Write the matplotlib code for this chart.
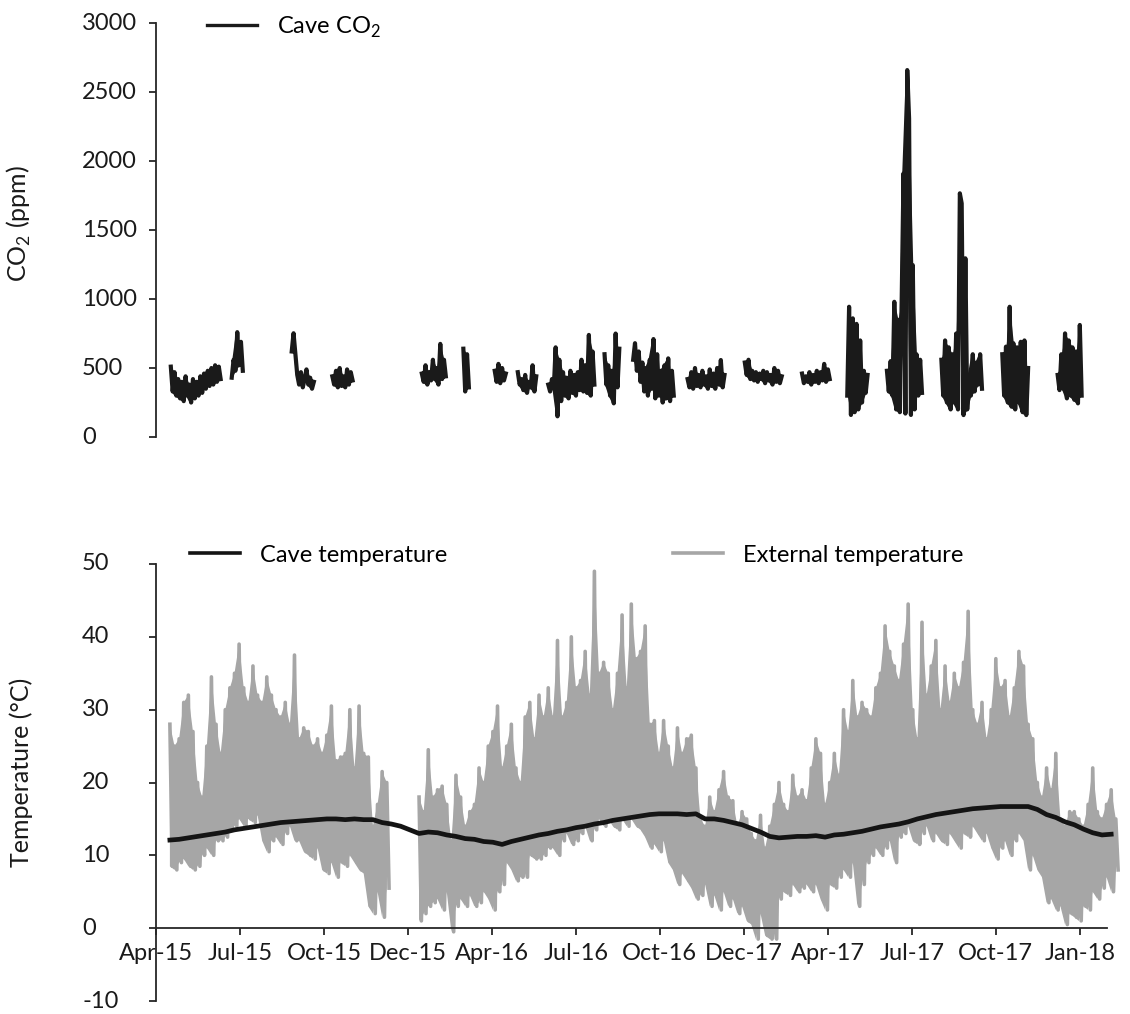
import numpy as np
from matplotlib import pyplot as plt

plt.rcParams["font.family"] = ["Lato", "DejaVu Sans"]
plt.rcParams["mathtext.fontset"] = "custom"
plt.rcParams["mathtext.rm"] = "Lato"
plt.rcParams["font.size"] = 17

# x axis: days since the first tick, one tick per quarter
tick_labels = ["Apr-15", "Jul-15", "Oct-15", "Dec-15", "Apr-16", "Jul-16",
               "Oct-16", "Dec-17", "Apr-17", "Jul-17", "Oct-17", "Jan-18"]
tick_days = [91 * i for i in range(len(tick_labels))]
axis_end = 1031

# external temperature, high / low every 5 days from day 15 (nan = logger gap)
ext_start = 15
ext_high = [
    28, 25, 26, 31, 32, 27, 20, 18, 25, 34.5,
    28, 24, 30, 33, 35, 39, 33, 31, 36, 32,
    31, 34.5, 32, 30, 29, 31, 28, 37.5, 26, 27.5,
    27, 25, 26, 24, 26.5, 30.5, 23, 23.5, 24, 30,
    22, 30.5, 24, 23.5, 14, 17, 21.5, 20,
    np.nan, np.nan, np.nan, np.nan, np.nan, np.nan,
    18, 16, 24.5, 18, 19, 19.5, 17, 12, 21, 18,
    14, 16, 17, 22, 20, 25, 27, 30.5, 22, 25,
    28, 22, 20, 29, 31, 26, 32, 29, 33, 29,
    39.5, 29, 31, 40, 33, 34, 38, 32, 49, 35,
    36.5, 35, 30, 35, 43, 33, 44.5, 37, 38, 41.5,
    28, 28.5, 24,
    28.5, 25, 22, 27.5, 24, 26, 26.5, 22, 15, 14,
    18, 16, 19, 21.5, 18, 17.5, 14, 16, 15, 13,
    12, 15.5, 11, 14, 17, 20, 17, 16, 21, 18,
    19, 17.5, 22, 26, 24, 17, 20, 24, 21, 30,
    27, 34, 29, 31, 30, 29, 33, 35, 41.5, 38,
    36, 34, 39, 44.5,
    30, 26, 42, 32, 36, 39.5, 30, 36, 31, 35,
    33, 36.5, 43.5, 30, 28, 31, 26, 30, 37, 33,
    34, 29, 33, 38, 36, 28, 26, 20, 18, 22,
    19, 24, 15, 14, 16, 16, 15, 14, 17, 22,
    16, 15, 17, 19, 15,
]
ext_low = [
    8.5, 8, 9, 9.5, 8.5, 8, 8.5, 10, 11, 10,
    12, 12, 12.5, 13.5, 14, 15, 14, 15, 14.5, 15.5,
    12, 10.5, 12, 12.5, 11.5, 13, 14, 12, 12, 10.5,
    10, 9.5, 11, 8, 7.5, 9, 7, 9, 8.5, 10,
    9, 8, 7.5, 3, 2, 5, 1.5, 5.5,
    np.nan, np.nan, np.nan, np.nan, np.nan, np.nan,
    1, 2, 3, 3.5, 4, 2.5, 5, -0.5, 3, 4,
    3, 4.5, 3, 3.5, 5, 4, 2.5, 5, 6, 9,
    8, 6.5, 7, 7, 10, 9.5, 9.5, 10, 11, 11,
    10, 12, 13, 11.5, 12, 13, 14, 12, 13.5, 15,
    14, 15, 14, 13.5, 15, 14, 15, 14, 13.5, 12.5,
    11, 11.5, 10.5,
    12, 9, 8, 6, 7.5, 6.5, 5.5, 4, 4.5, 6,
    3, 4.5, 2.5, 5, 3, 4, 2, 3, 1, 0.5,
    -1.5, 2, -1, -1.5, -1.5, 4, 5, 4.5, 6, 5,
    5.5, 6, 5, 6, 4, 2.5, 6, 5.5, 7, 8,
    7, 9, 3, 6, 9, 10, 11, 10, 11, 12,
    9, 12.5, 13, 14,
    12, 11.5, 13, 14, 12, 13, 12, 11.5, 13, 12,
    11, 13, 12.5, 14, 13, 12, 13, 11, 9.5, 11,
    12, 10, 12, 13, 12, 8, 10, 8, 7, 3.5,
    4, 2.5, 3, 0.5, 2, 1.5, 1, 3, 2.5, 5,
    4, 5.5, 7, 5, 8,
]

# cave temperature every 10 days from day 15
cave_start = 15
cave_temp = [
    12.1, 12.2, 12.4, 12.6, 12.8, 13.0, 13.2, 13.5, 13.7, 13.9,
    14.1, 14.3, 14.5, 14.6, 14.7, 14.8, 14.9, 15.0, 15.0, 14.9,
    15.0, 14.9, 14.9, 14.5, 14.3, 14.0, 13.5, 13.0, 13.2, 13.1,
    12.8, 12.6, 12.3, 12.2, 11.9, 11.8, 11.5, 11.9, 12.2, 12.5,
    12.8, 13.0, 13.3, 13.5, 13.8, 14.0, 14.3, 14.5, 14.8, 15.0,
    15.2, 15.4, 15.6, 15.7, 15.7, 15.7, 15.6, 15.7, 15.0, 15.0,
    14.8, 14.5, 14.2, 13.7, 13.2, 12.6, 12.4, 12.5, 12.6, 12.6,
    12.7, 12.5, 12.8, 12.9, 13.1, 13.3, 13.6, 13.9, 14.1, 14.3,
    14.6, 15.0, 15.3, 15.6, 15.8, 16.0, 16.2, 16.4, 16.5, 16.6,
    16.7, 16.7, 16.7, 16.7, 16.3, 15.6, 15.2, 14.6, 14.2, 13.6,
    13.1, 12.8, 12.9,
]

# cave CO2, one reading every 2 days inside each logging run
co2_step = 2
co2_starts = [16, 82, 147, 191, 288, 333, 367, 392, 425, 486,
              517, 576, 638, 700, 749, 792, 851, 917, 977]
co2_runs = [
    [510, 330, 470, 300, 420, 280, 400, 260, 440, 300, 380, 250, 420, 280,
     400, 300, 440, 320, 460, 350, 480, 370, 500, 380, 520, 400, 510, 420],
    [430, 560, 480, 760, 520, 690, 480],
    [620, 752, 600, 450, 380, 470, 360, 420, 490, 380, 430, 350, 400],
    [440, 380, 480, 360, 500, 370, 440, 360, 490, 380, 470, 410],
    [460, 400, 520, 380, 470, 410, 560, 420, 500, 380, 675, 420, 560, 440],
    [640, 330, 600, 360],
    [480, 400, 530, 390, 500, 410, 460],
    [470, 380, 420, 340, 450, 320, 400, 360, 520, 330, 440],
    [380, 330, 420, 350, 650, 150, 560, 260, 470, 300, 430, 280, 480,
     320, 450, 300, 470, 340, 560, 330, 520, 320, 740, 300, 620, 380],
    [600, 380, 520, 300, 480, 244, 750, 360, 640],
    [560, 680, 480, 620, 400, 540, 330, 500, 300, 560, 350, 710, 280,
     600, 300, 480, 250, 520, 280, 570, 260, 480, 300],
    [420, 360, 470, 350, 500, 370, 450, 360, 480, 380, 440, 350, 490,
     370, 460, 350, 500, 380, 558, 360, 450],
    [540, 450, 560, 420, 480, 410, 470, 400, 460, 420, 480, 390, 470,
     410, 450, 380, 500, 400, 480, 390, 440],
    [460, 390, 440, 400, 470, 380, 450, 400, 480, 390, 470, 410, 530,
     400, 490, 420],
    [300, 944, 160, 860, 180, 820, 200, 700, 250, 480, 320, 450],
    [480, 330, 550, 300, 980, 200, 850, 180, 1000, 1911, 170, 2659, 2309,
     160, 1246, 200, 600, 300, 560, 320],
    [560, 300, 700, 250, 650, 200, 600, 250, 750, 200, 1766, 1693, 159,
     1295, 200, 450, 300, 600, 330, 540, 380, 600, 350],
    [600, 300, 655, 250, 944, 220, 680, 200, 650, 250, 690, 180, 700, 159,
     500],
    [450, 340, 600, 350, 751, 280, 700, 300, 650, 270, 620, 244, 812, 300],
]

CO2_COLOR = "#1a1a1a"
EXT_COLOR = "#a6a6a6"
CAVE_COLOR = "#141414"
AXIS_COLOR = "#262626"


def zigzag(start, step, highs, lows):
    x, y = [], []
    for i, (hi, lo) in enumerate(zip(highs, lows)):
        day = start + step * i
        x += [day, day + step / 2]
        y += [hi, lo]
    return np.array(x), np.array(y)


def join_runs(starts, runs, step):
    x, y = [], []
    for start, run in zip(starts, runs):
        x += [start + step * i for i in range(len(run))] + [np.nan]
        y += list(run) + [np.nan]
    return np.array(x), np.array(y)


def style_y_axis(ax, label, label_y):
    ax.spines["top"].set_visible(False)
    ax.spines["right"].set_visible(False)
    ax.spines["left"].set_color(AXIS_COLOR)
    ax.spines["left"].set_linewidth(1.3)
    ax.tick_params(axis="y", length=5, width=1.3, color=AXIS_COLOR,
                   pad=48.3, labelcolor="#1a1a1a")
    plt.setp(ax.get_yticklabels(), ha="left", va="center")
    ax.set_ylabel(label, color="#1a1a1a", fontsize=18)
    ax.yaxis.set_label_coords(-0.127, label_y)


co2_x, co2_y = join_runs(co2_starts, co2_runs, co2_step)
ext_x, ext_y = zigzag(ext_start, 5, ext_high, ext_low)
ext_days = [ext_start + 5 * i for i in range(len(ext_high))]
cave_x = [cave_start + 10 * i for i in range(len(cave_temp))]

fig = plt.figure(figsize=(11.3, 10.14), dpi=100)
ax_co2 = fig.add_axes([0.1381, 0.5690, 0.8575, 0.4083])
ax_t = fig.add_axes([0.1381, 0.0128, 0.8575, 0.4310])

# CO2 panel: fill each run between its peaks and dips, then trace it
for start, run in zip(co2_starts, co2_runs):
    peaks, dips = run[0::2], run[1::2]
    n = min(len(peaks), len(dips))
    days = [start + 2 * co2_step * i for i in range(n)]
    ax_co2.fill_between(days, peaks[:n], dips[:n], color=CO2_COLOR, lw=0)
co2_line, = ax_co2.plot(co2_x, co2_y, color=CO2_COLOR, lw=3.0,
                        label=r"Cave CO$_\mathregular{2}$")
ax_co2.set_xlim(0, 1050)
ax_co2.set_ylim(0, 3000)
ax_co2.set_yticks(range(0, 3001, 500))
ax_co2.spines["bottom"].set_visible(False)
ax_co2.tick_params(axis="x", bottom=False, labelbottom=False)
style_y_axis(ax_co2, r"CO$_\mathregular{2}$ (ppm)", 0.515)
leg_co2 = ax_co2.legend(handles=[co2_line], loc="center left",
                        bbox_to_anchor=(0.0526, 0.99), frameon=False,
                        handlelength=2.1, handletextpad=0.85, borderpad=0,
                        borderaxespad=0)
for h in leg_co2.get_lines():
    h.set_linewidth(2.4)

# temperature panel: daily range band plus the zigzag of highs and lows
ax_t.fill_between(ext_days, ext_high, ext_low, color=EXT_COLOR, lw=0)
ext_line, = ax_t.plot(ext_x, ext_y, color=EXT_COLOR, lw=2.6,
                      label="External temperature")
cave_line, = ax_t.plot(cave_x, cave_temp, color=CAVE_COLOR, lw=3.4,
                       label="Cave temperature")
ax_t.set_xlim(0, 1050)
ax_t.set_ylim(-10, 50)
ax_t.set_yticks(range(-10, 51, 10), [str(v) for v in range(-10, 51, 10)])
ax_t.set_xticks(tick_days, tick_labels)
ax_t.spines["bottom"].set_position(("data", 0))
ax_t.spines["bottom"].set_bounds(0, axis_end)
ax_t.spines["bottom"].set_color(AXIS_COLOR)
ax_t.spines["bottom"].set_linewidth(1.3)
ax_t.tick_params(axis="x", length=5, width=1.3, color=AXIS_COLOR, pad=6,
                 labelcolor="#1a1a1a")
style_y_axis(ax_t, "Temperature (°C)", 0.523)

leg_kw = dict(loc="center left", frameon=False, handlelength=2.1,
              handletextpad=0.85, borderpad=0, borderaxespad=0)
leg_cave = ax_t.legend(handles=[cave_line], bbox_to_anchor=(0.035, 1.02),
                       **leg_kw)
for h in leg_cave.get_lines():
    h.set_linewidth(2.6)
ax_t.add_artist(leg_cave)
leg_ext = ax_t.legend(handles=[ext_line], bbox_to_anchor=(0.5335, 1.02),
                      **leg_kw)
for h in leg_ext.get_lines():
    h.set_linewidth(2.6)

fig.savefig("out.png", dpi=100)
